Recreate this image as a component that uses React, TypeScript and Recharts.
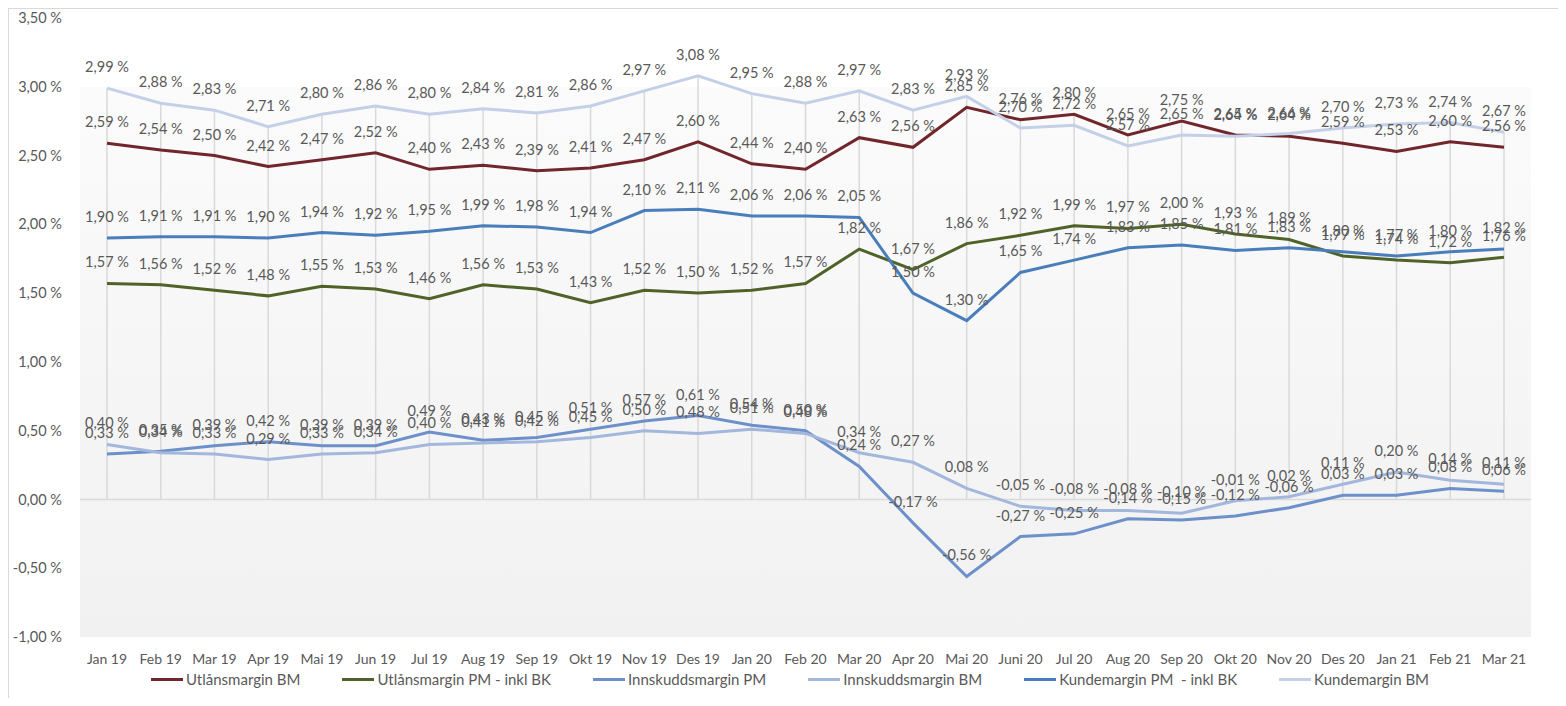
import React from 'react';
import { ComposedChart, Line, XAxis, YAxis, Legend, LabelList, ReferenceLine, CartesianGrid } from 'recharts';

const months = [
  'Jan 19', 'Feb 19', 'Mar 19', 'Apr 19', 'Mai 19', 'Jun 19', 'Jul 19', 'Aug 19', 'Sep 19', 'Okt 19', 'Nov 19', 'Des 19',
  'Jan 20', 'Feb 20', 'Mar 20', 'Apr 20', 'Mai 20', 'Juni 20', 'Jul 20', 'Aug 20', 'Sep 20', 'Okt 20', 'Nov 20', 'Des 20',
  'Jan 21', 'Feb 21', 'Mar 21',
];

const utlansBM = [2.59, 2.54, 2.5, 2.42, 2.47, 2.52, 2.4, 2.43, 2.39, 2.41, 2.47, 2.6, 2.44, 2.4, 2.63, 2.56, 2.85, 2.76, 2.8, 2.65, 2.75, 2.65, 2.64, 2.59, 2.53, 2.6, 2.56];
const utlansPM = [1.57, 1.56, 1.52, 1.48, 1.55, 1.53, 1.46, 1.56, 1.53, 1.43, 1.52, 1.5, 1.52, 1.57, 1.82, 1.67, 1.86, 1.92, 1.99, 1.97, 2.0, 1.93, 1.89, 1.77, 1.74, 1.72, 1.76];
const innskuddPM = [0.33, 0.35, 0.39, 0.42, 0.39, 0.39, 0.49, 0.43, 0.45, 0.51, 0.57, 0.61, 0.54, 0.5, 0.24, -0.17, -0.56, -0.27, -0.25, -0.14, -0.15, -0.12, -0.06, 0.03, 0.03, 0.08, 0.06];
const innskuddBM = [0.4, 0.34, 0.33, 0.29, 0.33, 0.34, 0.4, 0.41, 0.42, 0.45, 0.5, 0.48, 0.51, 0.48, 0.34, 0.27, 0.08, -0.05, -0.08, -0.08, -0.1, -0.01, 0.02, 0.11, 0.2, 0.14, 0.11];
const kundePM = [1.9, 1.91, 1.91, 1.9, 1.94, 1.92, 1.95, 1.99, 1.98, 1.94, 2.1, 2.11, 2.06, 2.06, 2.05, 1.5, 1.3, 1.65, 1.74, 1.83, 1.85, 1.81, 1.83, 1.8, 1.77, 1.8, 1.82];
const kundeBM = [2.99, 2.88, 2.83, 2.71, 2.8, 2.86, 2.8, 2.84, 2.81, 2.86, 2.97, 3.08, 2.95, 2.88, 2.97, 2.83, 2.93, 2.7, 2.72, 2.57, 2.65, 2.64, 2.66, 2.7, 2.73, 2.74, 2.67];

const yTicks = [-1, -0.5, 0, 0.5, 1, 1.5, 2, 2.5, 3, 3.5];

const series = [
  { key: 'utlansBM', name: 'Utlånsmargin BM', color: '#70262B', values: utlansBM },
  { key: 'utlansPM', name: 'Utlånsmargin PM - inkl BK', color: '#4F6228', values: utlansPM },
  { key: 'innskuddPM', name: 'Innskuddsmargin PM', color: '#6D90CB', values: innskuddPM },
  { key: 'innskuddBM', name: 'Innskuddsmargin BM', color: '#A3B7DD', values: innskuddBM },
  { key: 'kundePM', name: 'Kundemargin PM  - inkl BK', color: '#4A7EBB', values: kundePM },
  { key: 'kundeBM', name: 'Kundemargin BM', color: '#C4D0E8', values: kundeBM },
];

const data = months.map((month, i) => {
  const row: { [k: string]: any } = { month };
  series.forEach(s => { row[s.key] = s.values[i]; });
  return row;
});

// drop lines go from the highest point of each month down to the zero axis
const dropTops = months.map((_, i) => Math.max(...series.map(s => s.values[i])));

const fmt = (v: any) => Number(v).toFixed(2).replace('.', ',') + ' %';

const renderLegend = () => (
  <div style={{ display: 'flex', justifyContent: 'center', gap: 42, fontSize: 15, color: '#595959', paddingLeft: 40 }}>
    {series.map(s => (
      <span key={s.key} style={{ display: 'flex', alignItems: 'center', whiteSpace: 'pre' }}>
        <span style={{ display: 'inline-block', width: 32, height: 3, background: s.color, marginRight: 3 }} />
        {s.name}
      </span>
    ))}
  </div>
);

export default function App() {
  return (
    <div style={{ width: 1557, height: 689, borderTop: '1px solid #d9d9d9', borderLeft: '1px solid #d9d9d9', fontFamily: 'Lato, sans-serif' }}>
      <ComposedChart width={1557} height={689} data={data} margin={{ top: 9, right: 35, left: 0, bottom: 6 }}>
        <defs>
          {/* white above 3,00 %, then a soft grey fade down to -1,00 % */}
          <linearGradient id="plotBg" x1="0" y1="0" x2="0" y2="1">
            <stop offset="0%" stopColor="#ffffff" />
            <stop offset="11.1%" stopColor="#ffffff" />
            <stop offset="11.1%" stopColor="#fbfbfb" />
            <stop offset="100%" stopColor="#f1f1f1" />
          </linearGradient>
        </defs>
        <CartesianGrid horizontal={false} vertical={false} fill="url(#plotBg)" fillOpacity={1} />
        <XAxis
          dataKey="month"
          axisLine={false}
          tickLine={false}
          interval={0}
          height={33}
          tickSize={0}
          tickMargin={17}
          padding={{ left: 27, right: 27 }}
          tick={{ fontSize: 14, fill: '#595959' }}
        />
        <YAxis
          domain={[-1, 3.5]}
          ticks={yTicks}
          width={71}
          axisLine={false}
          tickLine={false}
          tickSize={0}
          tickMargin={18}
          tickFormatter={fmt}
          tick={{ fontSize: 14.5, fill: '#595959' }}
        />
        {months.map((m, i) => (
          <ReferenceLine key={m} segment={[{ x: m, y: 0 }, { x: m, y: dropTops[i] }]} stroke="#d9d9d9" strokeWidth={1.5} />
        ))}
        <ReferenceLine y={0} stroke="#d9d9d9" strokeWidth={1.5} />
        <Legend verticalAlign="bottom" height={22} content={renderLegend} />
        {series.map(s => (
          <Line
            key={s.key}
            type="linear"
            dataKey={s.key}
            name={s.name}
            stroke={s.color}
            strokeWidth={3}
            dot={false}
            activeDot={false}
            isAnimationActive={false}
          >
            <LabelList dataKey={s.key} position="top" offset={16} formatter={fmt} fill="#595959" fontSize={14.5} />
          </Line>
        ))}
      </ComposedChart>
    </div>
  );
}
